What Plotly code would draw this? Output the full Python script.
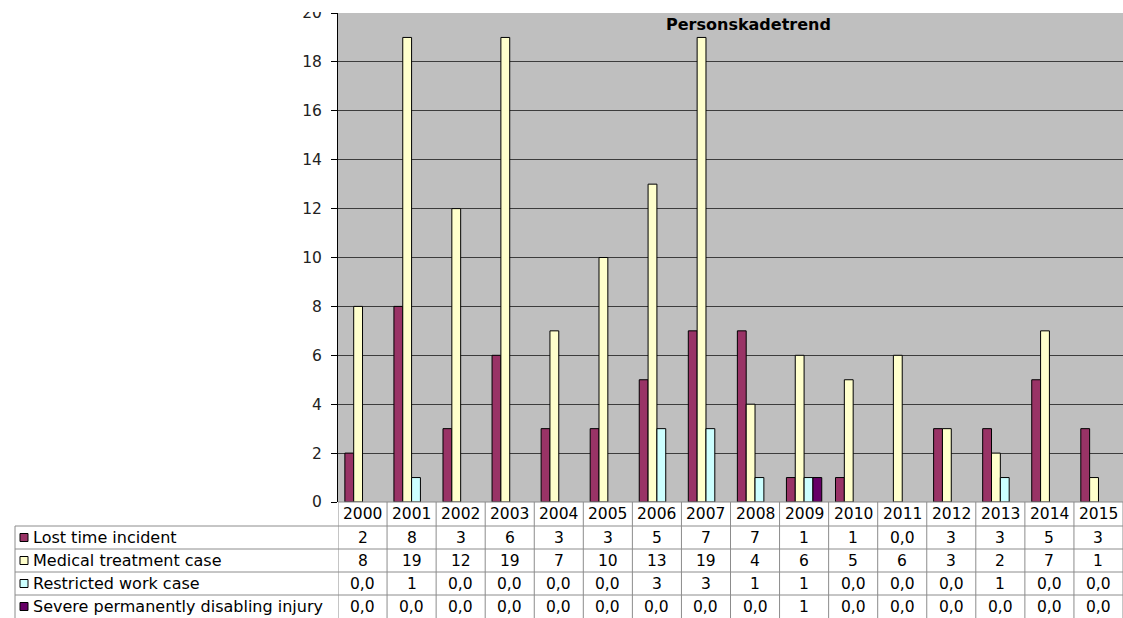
import plotly.graph_objects as go

# Yearly injury counts by category
years = [str(y) for y in range(2000, 2016)]
lost_time = [2, 8, 3, 6, 3, 3, 5, 7, 7, 1, 1, 0, 3, 3, 5, 3]
medical = [8, 19, 12, 19, 7, 10, 13, 19, 4, 6, 5, 6, 3, 2, 7, 1]
restricted = [0, 1, 0, 0, 0, 0, 3, 3, 1, 1, 0, 0, 0, 1, 0, 0]
severe = [0, 0, 0, 0, 0, 0, 0, 0, 0, 1, 0, 0, 0, 0, 0, 0]

series_names = [
    "Lost time incident",
    "Medical treatment case",
    "Restricted work case",
    "Severe permanently disabling injury",
]
series_values = [lost_time, medical, restricted, severe]
series_colors = ["#993366", "#FFFFCC", "#CCFFFF", "#660066"]
chart_title = "Personskadetrend"
y_ticks = list(range(0, 21, 2))

# Page and plot-area geometry (pixels)
W, H = 1123, 618
PL, PR, PT, PB = 338, 1123, 13, 502
FONT = "DejaVu Sans"
GRID = "#8c8c8c"


def fx(px):
    return (px - PL) / (PR - PL)


def fy(py):
    return (PB - py) / (PB - PT)


fig = go.Figure()
x_idx = list(range(len(years)))
for name, vals, col in zip(series_names, series_values, series_colors):
    # zero counts leave an empty slot rather than a flat outlined bar
    fig.add_trace(go.Bar(
        x=x_idx, y=[v if v else None for v in vals], name=name,
        marker=dict(color=col, line=dict(color="#000000", width=1)),
        showlegend=False,
    ))

shapes = []
annotations = []

# Data table below the plot: grid lines
row_edges = [502, 526, 549, 572, 595, 618]
row_centers = [(a + b) / 2 for a, b in zip(row_edges[:-1], row_edges[1:])]

shapes.append(dict(type="line", xref="x", yref="paper",
                   x0=-0.5, x1=len(years) - 0.5, y0=fy(502), y1=fy(502),
                   line=dict(color=GRID, width=1)))
for ry in row_edges[1:-1]:
    shapes.append(dict(type="line", xref="paper", yref="paper",
                       x0=fx(15), x1=1, y0=fy(ry), y1=fy(ry),
                       line=dict(color=GRID, width=1)))
for i in range(len(years) + 1):
    shapes.append(dict(type="line", xref="x", yref="paper",
                       x0=i - 0.5, x1=i - 0.5, y0=fy(502), y1=fy(620),
                       line=dict(color=GRID, width=1)))
shapes.append(dict(type="line", xref="paper", yref="paper",
                   x0=fx(15), x1=fx(15), y0=fy(526), y1=fy(620),
                   line=dict(color=GRID, width=1)))

# Header row with the years
for i, yr in enumerate(years):
    annotations.append(dict(x=i, xref="x", y=fy(row_centers[0]), yref="paper",
                            text=yr, showarrow=False, xanchor="center", yanchor="middle",
                            font=dict(family=FONT, size=15.5, color="#000000")))


def fmt(v):
    return "0,0" if v == 0 else str(v)


# Series rows: legend key, label, values
for r, (name, vals, col) in enumerate(zip(series_names, series_values, series_colors)):
    cy = row_centers[r + 1]
    shapes.append(dict(type="rect", xref="paper", yref="paper",
                       x0=fx(20), x1=fx(28), y0=fy(cy + 4), y1=fy(cy - 4),
                       fillcolor=col, line=dict(color="#000000", width=1)))
    annotations.append(dict(x=fx(31), xref="paper", y=fy(cy), yref="paper",
                            text=name, showarrow=False, xanchor="left", yanchor="middle",
                            font=dict(family=FONT, size=16, color="#000000")))
    for i, v in enumerate(vals):
        annotations.append(dict(x=i, xref="x", y=fy(cy), yref="paper",
                                text=fmt(v), showarrow=False, xanchor="center",
                                yanchor="middle",
                                font=dict(family=FONT, size=15.5, color="#000000")))

# Chart title inside the plot area
annotations.append(dict(x=fx(748), xref="paper", y=fy(24), yref="paper",
                        text=chart_title, showarrow=False, xanchor="center",
                        yanchor="middle",
                        font=dict(family=FONT, size=16, color="#000000", weight="bold")))

# White band above the plot area trimming the top tick label
annotations.append(dict(x=fx(336), xref="paper", y=fy(12), yref="paper",
                        xanchor="right", yanchor="bottom", text=" ",
                        width=90, height=14, bgcolor="#ffffff",
                        font=dict(size=8), borderwidth=0, borderpad=0,
                        showarrow=False))

fig.update_layout(
    width=W, height=H,
    margin=dict(l=PL, r=W - PR, t=PT, b=H - PB, pad=0),
    paper_bgcolor="#ffffff",
    plot_bgcolor="#bfbfbf",
    barmode="group", bargap=0.28, bargroupgap=0,
    font=dict(family=FONT, size=15, color="#000000"),
    shapes=shapes,
    annotations=annotations,
    xaxis=dict(range=[-0.5, len(years) - 0.5],
               showticklabels=False, showgrid=False, showline=False,
               zeroline=False, ticks=""),
    yaxis=dict(range=[0, 20], tickvals=y_ticks, showgrid=True,
               gridcolor="#3c3c3c", gridwidth=1, zeroline=False,
               showline=True, linecolor="#000000", linewidth=1,
               ticks="outside", ticklen=6, tickcolor="#000000",
               ticklabelstandoff=6,
               tickfont=dict(family=FONT, size=15.5, color="#222222")),
)

fig.write_html("out.html")
